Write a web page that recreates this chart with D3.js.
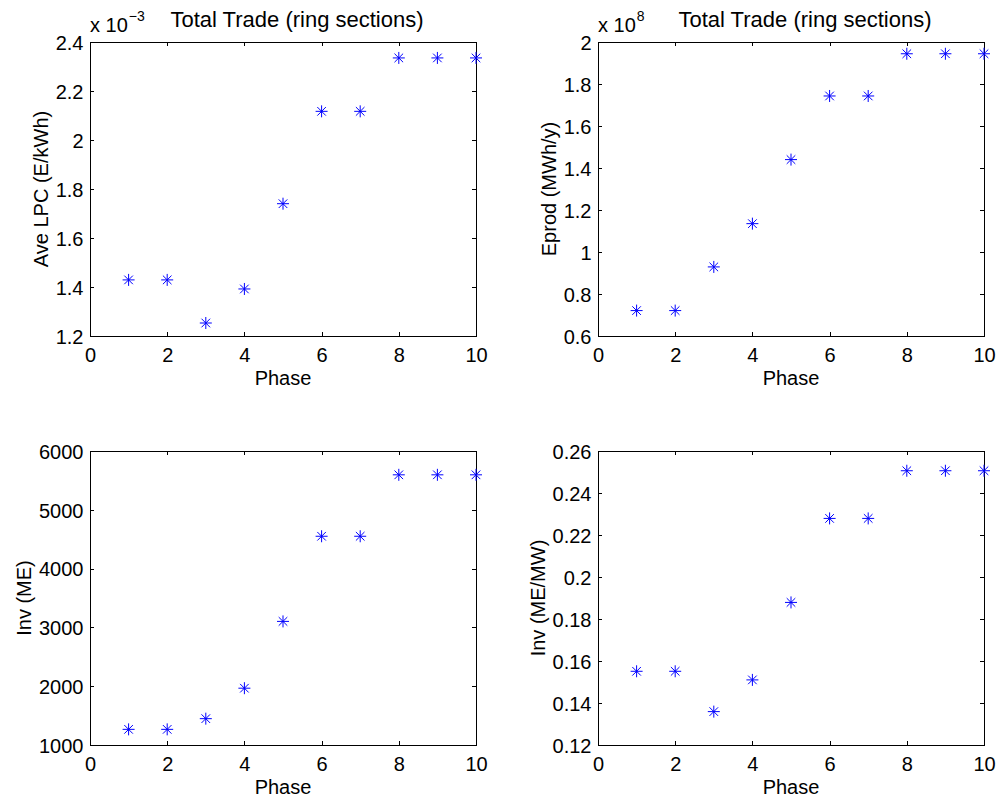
<!DOCTYPE html>
<html><head><meta charset="utf-8">
<script src="https://cdn.jsdelivr.net/npm/d3@7"></script>
<style>
html,body{margin:0;padding:0;background:#fff;}
svg{display:block;font-family:"Liberation Sans",Arial,Helvetica,sans-serif;}
</style></head><body>
<svg id="chart" width="997" height="798"></svg>
<script>
// ---- data ----
const phase = [1, 2, 3, 4, 5, 6, 7, 8, 9, 10];
const aveLPC = [1.429e-3, 1.429e-3, 1.253e-3, 1.392e-3, 1.740e-3, 2.117e-3, 2.117e-3, 2.335e-3, 2.335e-3, 2.335e-3];
const eprod = [0.721e8, 0.721e8, 0.929e8, 1.135e8, 1.440e8, 1.743e8, 1.743e8, 1.944e8, 1.944e8, 1.944e8];
const invME = [1266, 1266, 1448, 1966, 3102, 4550, 4550, 5595, 5595, 5595];
const invPerMW = [0.1551, 0.1551, 0.1359, 0.1510, 0.1879, 0.2279, 0.2279, 0.2506, 0.2506, 0.2506];

// ---- ticks ----
const phaseTicks = [0, 2, 4, 6, 8, 10];
const phaseTickLabels = ["0", "2", "4", "6", "8", "10"];
const lpcTicks = [1.2e-3, 1.4e-3, 1.6e-3, 1.8e-3, 2.0e-3, 2.2e-3, 2.4e-3];
const lpcTickLabels = ["1.2", "1.4", "1.6", "1.8", "2", "2.2", "2.4"];
const eprodTicks = [0.6e8, 0.8e8, 1.0e8, 1.2e8, 1.4e8, 1.6e8, 1.8e8, 2.0e8];
const eprodTickLabels = ["0.6", "0.8", "1", "1.2", "1.4", "1.6", "1.8", "2"];
const invTicks = [1000, 2000, 3000, 4000, 5000, 6000];
const invTickLabels = ["1000", "2000", "3000", "4000", "5000", "6000"];
const invMWTicks = [0.12, 0.14, 0.16, 0.18, 0.20, 0.22, 0.24, 0.26];
const invMWTickLabels = ["0.12", "0.14", "0.16", "0.18", "0.2", "0.22", "0.24", "0.26"];

const titleText = "Total Trade (ring sections)";
const xLabel = "Phase";

// ---- layout ----
const W = 386, H = 294;
const panels = [
  {vals: aveLPC, ticks: lpcTicks, labels: lpcTickLabels, ylabel: "Ave LPC (E/kWh)", title: true, exp: "\u22123", left: 90, top: 42},
  {vals: eprod, ticks: eprodTicks, labels: eprodTickLabels, ylabel: "Eprod (MWh/y)", title: true, exp: "8", left: 598, top: 42},
  {vals: invME, ticks: invTicks, labels: invTickLabels, ylabel: "Inv (ME)", title: false, exp: null, left: 90, top: 451},
  {vals: invPerMW, ticks: invMWTicks, labels: invMWTickLabels, ylabel: "Inv (ME/MW)", title: false, exp: null, left: 598, top: 451}
];

const svg = d3.select("#chart");
const FS = 20;
const star = "M-6,0H6M0,-6V6M-4.3,-4.3L4.3,4.3M-4.3,4.3L4.3,-4.3";

function styleAxis(sel) {
  sel.select(".domain").remove();
  sel.selectAll(".tick line").attr("stroke", "#000").attr("shape-rendering", "crispEdges");
  sel.selectAll(".tick text").attr("fill", "#000").style("font-size", FS + "px");
  sel.attr("font-family", null).attr("font-size", null);
}

panels.forEach(cfg => {
  const g = svg.append("g").attr("transform", `translate(${cfg.left},${cfg.top})`);
  const x = d3.scaleLinear().domain([0, 10]).range([0, W]);
  const y = d3.scaleLinear().domain([cfg.ticks[0], cfg.ticks[cfg.ticks.length - 1]]).range([H, 0]);

  // frame
  g.append("rect").attr("x", 0.5).attr("y", 0.5).attr("width", W).attr("height", H)
    .attr("fill", "none").attr("stroke", "#000").attr("stroke-width", 1).attr("shape-rendering", "crispEdges");

  // axes with inward ticks
  g.append("g").attr("transform", `translate(0,${H})`)
    .call(d3.axisBottom(x).tickValues(phaseTicks).tickFormat((d, i) => phaseTickLabels[i])
      .tickSizeInner(-4).tickSizeOuter(0).tickPadding(12))
    .call(styleAxis);
  g.append("g")
    .call(d3.axisTop(x).tickValues(phaseTicks).tickFormat("").tickSizeInner(-4).tickSizeOuter(0))
    .call(styleAxis);
  const yAx = g.append("g")
    .call(d3.axisLeft(y).tickValues(cfg.ticks).tickFormat((d, i) => cfg.labels[i])
      .tickSizeInner(-4).tickSizeOuter(0).tickPadding(6.5))
    .call(styleAxis);
  yAx.selectAll(".tick text").attr("dy", "0.36em");
  g.append("g").attr("transform", `translate(${W},0)`)
    .call(d3.axisRight(y).tickValues(cfg.ticks).tickFormat("").tickSizeInner(-4).tickSizeOuter(0))
    .call(styleAxis);

  // markers
  g.append("g").selectAll("path").data(phase.map((p, i) => [p, cfg.vals[i]])).join("path")
    .attr("transform", d => `translate(${x(d[0])},${y(d[1])})`)
    .attr("d", star).attr("fill", "none").attr("stroke", "#0000ff").attr("stroke-width", 1);

  // x label
  g.append("text").attr("x", W / 2).attr("y", H + 49).attr("text-anchor", "middle")
    .style("font-size", FS + "px").attr("fill", "#000").text(xLabel);

  // y label
  const bb = yAx.node().getBBox();
  g.append("text").attr("transform", `translate(${bb.x - 8},${H / 2}) rotate(-90)`)
    .attr("text-anchor", "middle").style("font-size", FS + "px").attr("fill", "#000").text(cfg.ylabel);

  // title
  if (cfg.title) {
    g.append("text").attr("x", W / 2 + 14).attr("y", -15).attr("text-anchor", "middle")
      .style("font-size", "22px").attr("fill", "#000").text(titleText);
  }
  // exponent
  if (cfg.exp) {
    const t = g.append("text").attr("x", 0).attr("y", -10).style("font-size", FS + "px").attr("fill", "#000");
    t.append("tspan").text("x 10");
    t.append("tspan").attr("dy", -11).attr("dx", 1).style("font-size", "14px").text(cfg.exp);
  }
});
</script>
</body></html>
